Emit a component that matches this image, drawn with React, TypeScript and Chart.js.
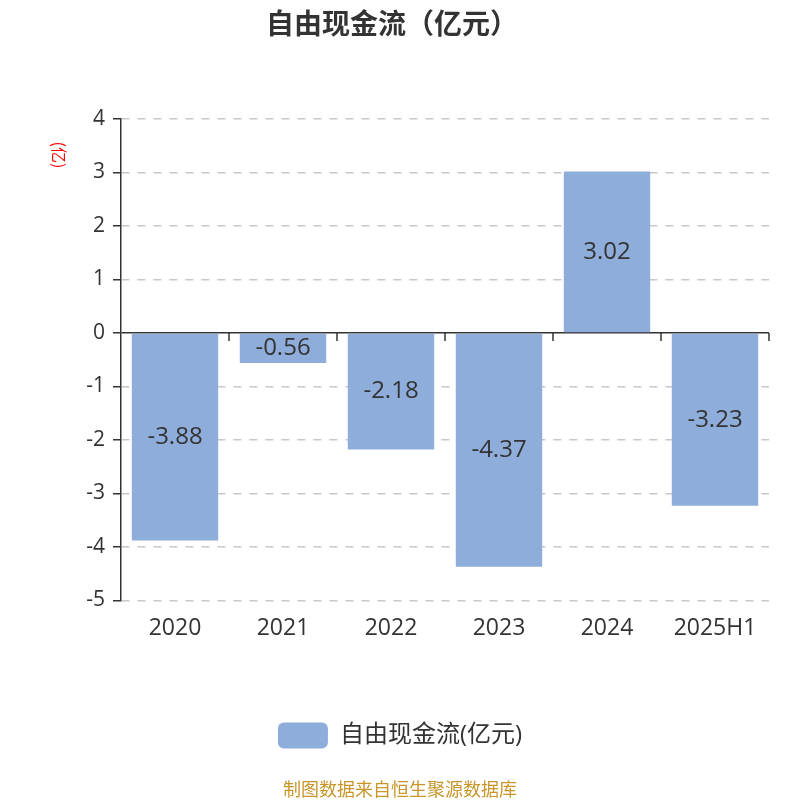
import React, { useEffect, useRef } from 'react';
import { Chart, registerables } from 'chart.js';

Chart.register(...registerables);

const categories = ['2020', '2021', '2022', '2023', '2024', '2025H1'];
const values = [-3.88, -0.56, -2.18, -4.37, 3.02, -3.23];
const yMin = -5;
const yMax = 4;
const seriesName = '自由现金流(亿元)';
const chartTitle = '自由现金流（亿元）';
const unitLabel = '(亿)';
const sourceNote = '制图数据来自恒生聚源数据库';

const FONT = '"Open Sans", "Noto Sans CJK SC", sans-serif';
const CJK = '"Noto Sans CJK SC", sans-serif';
const BAR = '#8eaddb';
const TEXT = '#333';

// labels in the middle of each bar
const valueLabels = {
  id: 'valueLabels',
  afterDatasetsDraw(chart: Chart) {
    const ctx = chart.ctx;
    const meta = chart.getDatasetMeta(0);
    ctx.save();
    ctx.font = `24px ${FONT}`;
    ctx.fillStyle = TEXT;
    ctx.textAlign = 'center';
    ctx.textBaseline = 'middle';
    meta.data.forEach((el: any, i: number) => {
      const mid = (el.y + el.base) / 2;
      ctx.fillText(String(values[i]), el.x, mid);
    });
    ctx.restore();
  },
};

// ticks on the zero line, title and rotated unit label
const zeroAxis = {
  id: 'zeroAxis',
  afterDraw(chart: Chart) {
    const ctx = chart.ctx;
    const x = chart.scales.x;
    const y = chart.scales.y;
    const y0 = y.getPixelForValue(0);
    const n = categories.length;
    ctx.save();
    ctx.strokeStyle = TEXT;
    ctx.lineWidth = 1.5;
    for (let i = 1; i <= n; i++) {
      const px = x.left + (i * x.width) / n;
      ctx.beginPath();
      ctx.moveTo(px, y0);
      ctx.lineTo(px, y0 + 8);
      ctx.stroke();
    }
    ctx.font = `bold 28px ${CJK}`;
    ctx.fillStyle = TEXT;
    ctx.textAlign = 'center';
    ctx.textBaseline = 'middle';
    ctx.fillText(chartTitle, 392, 23);

    ctx.translate(59, 155);
    ctx.rotate(Math.PI / 2);
    ctx.font = `16px ${CJK}`;
    ctx.fillStyle = 'red';
    ctx.fillText(unitLabel, 0, 0);
    ctx.restore();
  },
};

export default function App() {
  const canvasRef = useRef<HTMLCanvasElement>(null);
  const chartInstance = useRef<Chart | null>(null);

  useEffect(() => {
    document.body.style.margin = '0';
    if (!canvasRef.current) return;
    const ctx = canvasRef.current.getContext('2d');
    if (!ctx) return;

    chartInstance.current = new Chart(ctx, {
      type: 'bar',
      data: {
        labels: categories,
        datasets: [
          {
            label: seriesName,
            data: values,
            backgroundColor: BAR,
            borderWidth: 0,
            barPercentage: 0.8,
            categoryPercentage: 1,
          },
        ],
      },
      options: {
        animation: false,
        responsive: true,
        maintainAspectRatio: false,
        layout: { padding: { left: 0, right: 0, top: 119, bottom: 0 } },
        plugins: {
          title: { display: false },
          subtitle: {
            display: true,
            position: 'bottom',
            text: sourceNote,
            color: '#c8962a',
            font: { family: CJK, size: 18 },
            padding: { top: 20, bottom: 0 },
          },
          legend: {
            position: 'bottom',
            labels: {
              color: TEXT,
              boxWidth: 50,
              boxHeight: 26,
              useBorderRadius: true,
              borderRadius: 6,
              padding: 10,
              font: { family: FONT, size: 24 },
            },
          },
          tooltip: { enabled: false },
        },
        scales: {
          x: {
            grid: { display: false },
            border: { display: false },
            ticks: {
              color: TEXT,
              padding: 6,
              font: { family: FONT, size: 23 },
            },
            afterFit: (scale: any) => {
              scale.height = 112;
            },
          },
          y: {
            min: yMin,
            max: yMax,
            afterFit: (scale: any) => {
              scale.width = 121;
            },
            border: {
              display: true,
              color: TEXT,
              width: 1.5,
              dash: (c: any) => (c.tick && c.tick.value === 0 ? [] : [8, 8]),
            },
            grid: {
              color: (c: any) => (c.tick && c.tick.value === 0 ? TEXT : '#c8c8c8'),
              lineWidth: 1.5,
              tickColor: TEXT,
              tickLength: 8,
              tickWidth: 1.5,
            },
            ticks: {
              stepSize: 1,
              color: TEXT,
              padding: 8,
              font: { family: FONT, size: 21 },
            },
          },
          // empty axis on the right, only keeps space so legend/footer centre on the canvas
          y2: {
            type: 'linear',
            position: 'right',
            display: true,
            grid: { display: false, drawTicks: false },
            border: { display: false },
            ticks: { display: false },
            afterFit: (scale: any) => {
              scale.width = 31;
            },
          },
        },
      },
      plugins: [valueLabels, zeroAxis],
    });

    return () => {
      chartInstance.current?.destroy();
    };
  }, []);

  return (
    <div style={{ width: '800px', height: '800px' }}>
      <canvas ref={canvasRef} />
    </div>
  );
}
